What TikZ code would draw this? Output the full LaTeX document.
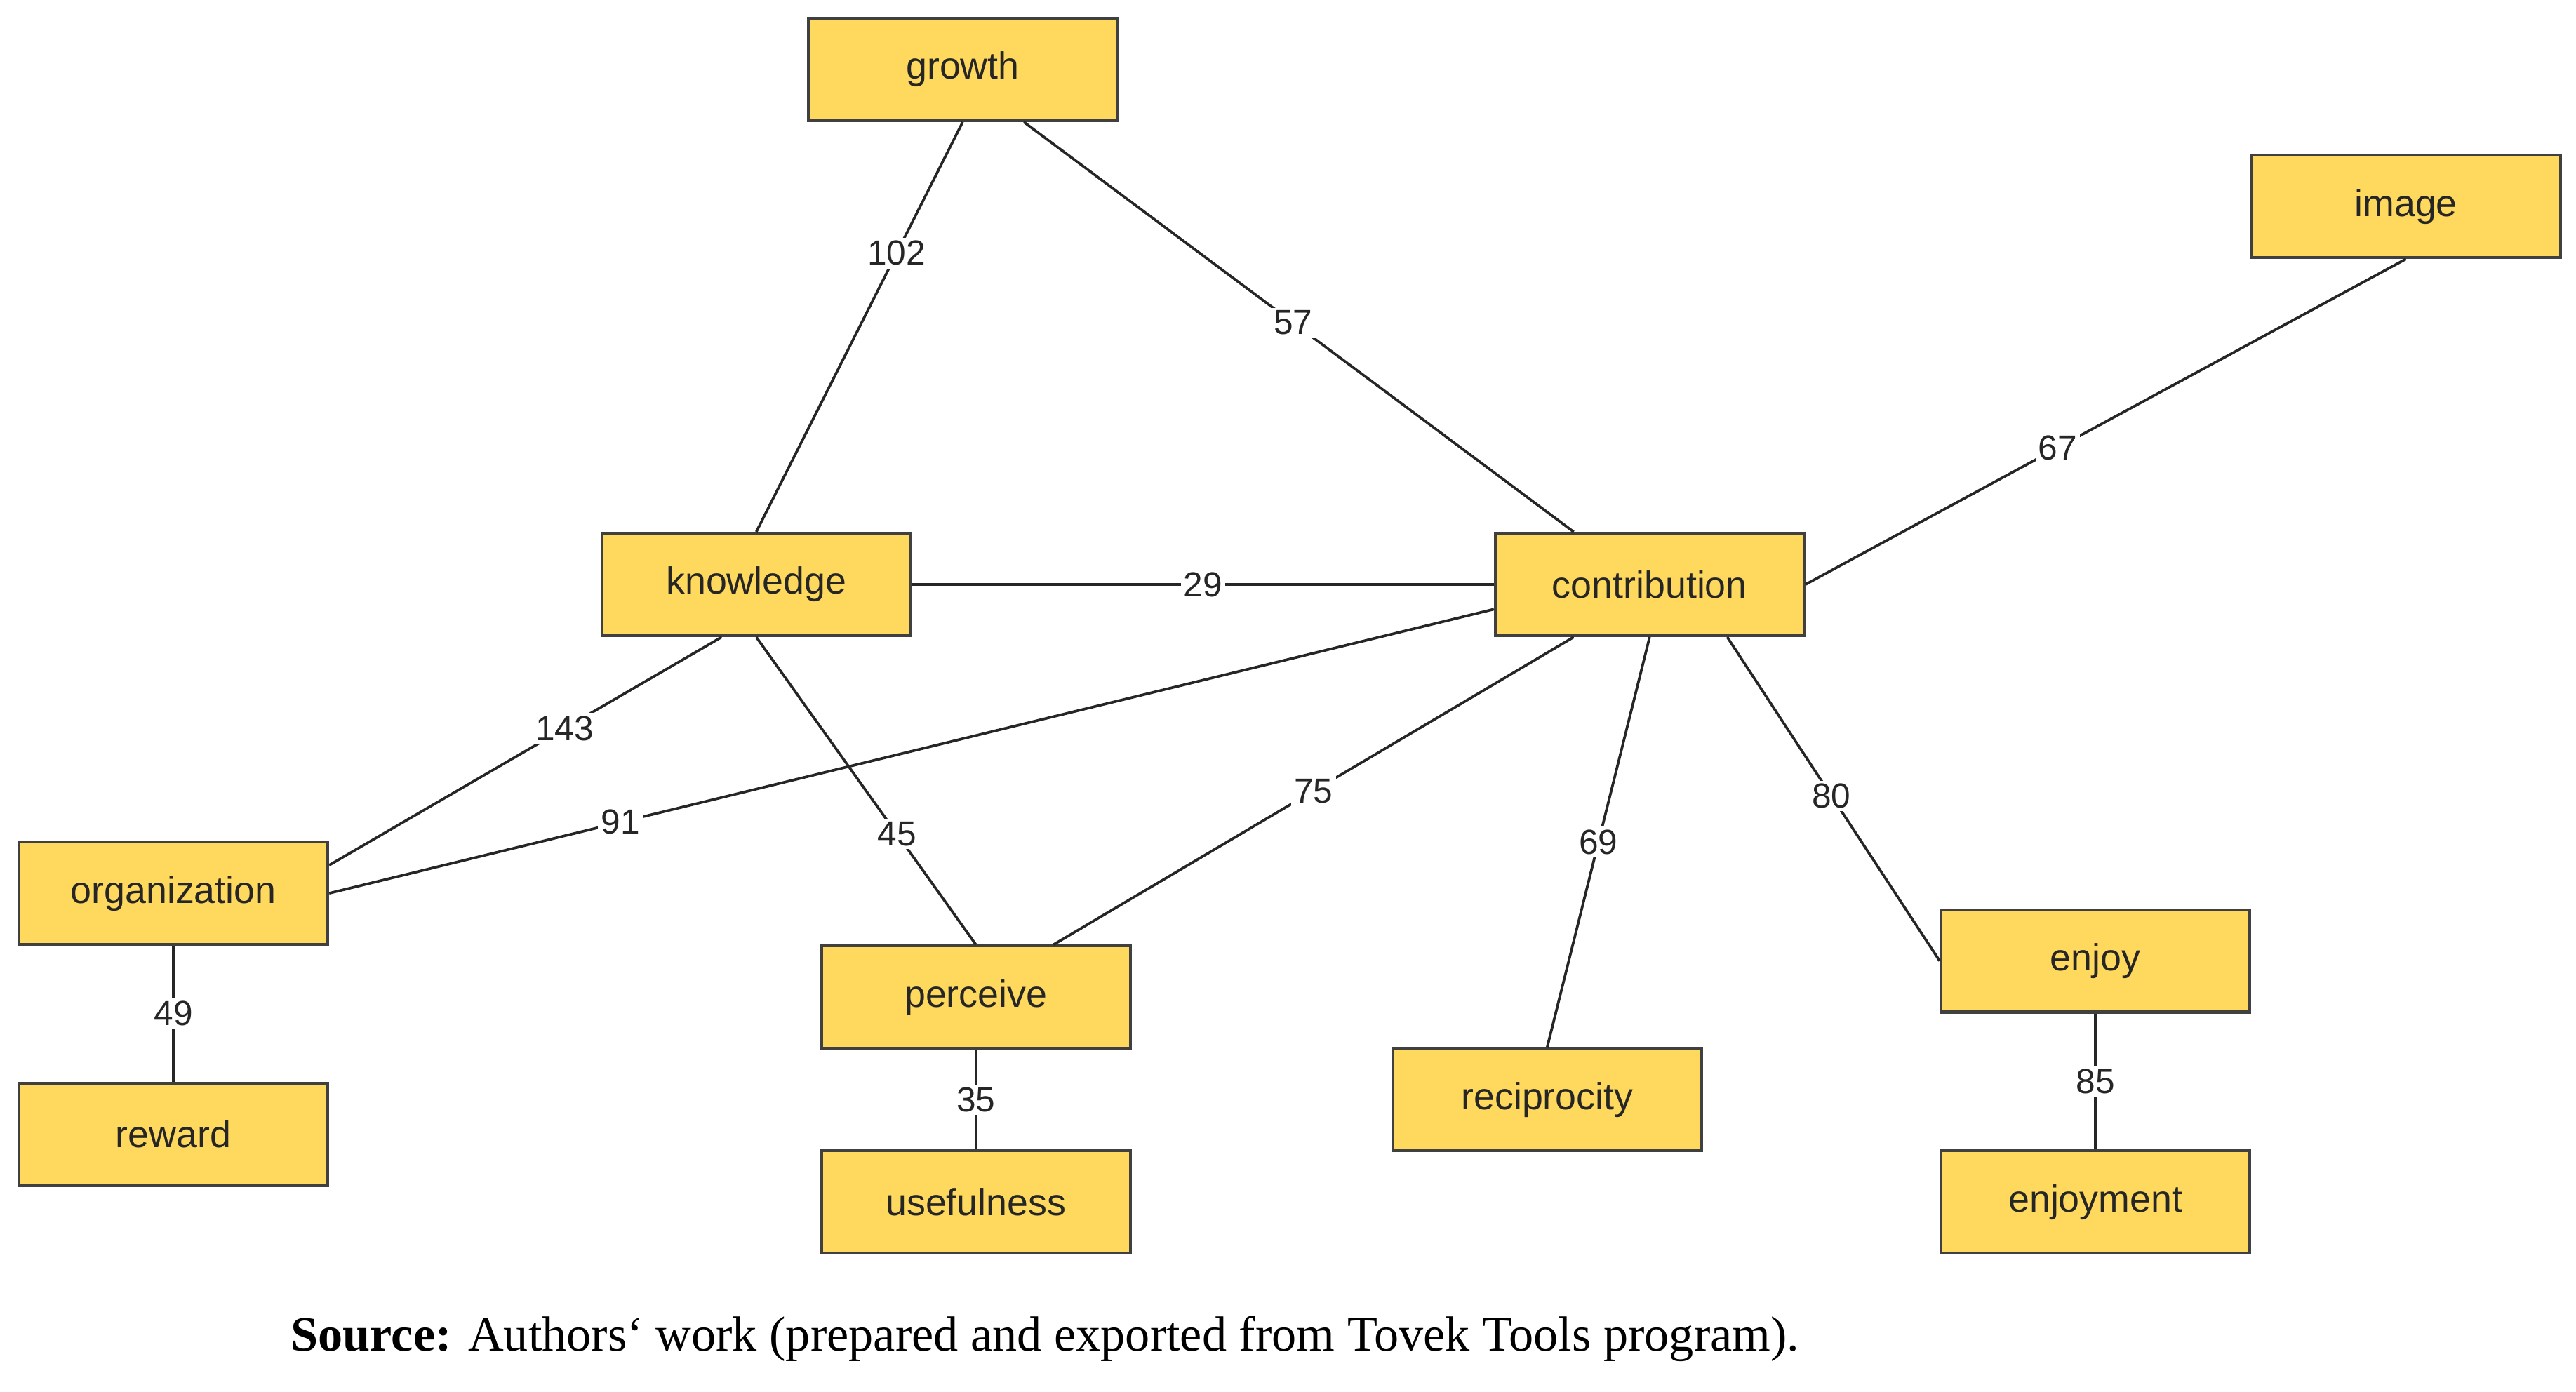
\documentclass[tikz,border=0pt]{standalone}
\usepackage{fontspec}
\setmainfont{Liberation Sans}
\newfontfamily\srcfont{Liberation Serif}
\begin{document}
\begin{tikzpicture}[x=0.02cm,y=-0.02cm,
  box/.style={draw=black!75,line width=1pt,fill={rgb,255:red,255;green,217;blue,94},minimum width=3.74cm,minimum height=1.24cm,inner sep=0pt,font=\fontsize{13}{15}\selectfont,text=black!85},
  lbl/.style={fill=white,inner sep=1pt,font=\fontsize{12}{14}\selectfont,text=black!85},
  edge/.style={draw=black!85,line width=0.9pt}]
\useasboundingbox (0,0) rectangle (1560,843);
\node[box] (growth) at (583,42) {growth};
\node[box] (image) at (1457,125) {image};
\node[box] (knowledge) at (458,354) {knowledge};
\node[box] (contribution) at (999,354) {contribution};
\node[box] (organization) at (105,541) {organization};
\node[box] (perceive) at (591,604) {perceive};
\node[box] (reciprocity) at (937,666) {reciprocity};
\node[box] (enjoy) at (1269,582) {enjoy};
\node[box] (reward) at (105,687) {reward};
\node[box] (usefulness) at (591,728) {usefulness};
\node[box] (enjoyment) at (1269,728) {enjoyment};
\draw[edge] (growth.south) -- node[lbl,pos=0.32]{102} (knowledge.north);
\draw[edge] ([xshift=0.74cm]growth.south) -- node[lbl,pos=0.49]{57} ([xshift=-0.92cm]contribution.north);
\draw[edge] (image.south) -- node[lbl,pos=0.58]{67} (contribution.east);
\draw[edge] (knowledge.east) -- node[lbl,pos=0.5]{29} (contribution.west);
\draw[edge] ([xshift=-0.42cm]knowledge.south) -- node[lbl,pos=0.4]{143} ([yshift=0.34cm]organization.east);
\draw[edge] ([yshift=-0.3cm]contribution.west) -- node[lbl,pos=0.75]{91} (organization.east);
\draw[edge] (knowledge.south) -- node[lbl,pos=0.64]{45} (perceive.north);
\draw[edge] ([xshift=-0.92cm]contribution.south) -- node[lbl,pos=0.5]{75} ([xshift=0.94cm]perceive.north);
\draw[edge] (contribution.south) -- node[lbl,pos=0.5]{69} (reciprocity.north);
\draw[edge] ([xshift=0.94cm]contribution.south) -- node[lbl,pos=0.49]{80} (enjoy.west);
\draw[edge] (organization.south) -- node[lbl]{49} (reward.north);
\draw[edge] (perceive.south) -- node[lbl]{35} (usefulness.north);
\draw[edge] (enjoy.south) -- node[lbl]{85} (enjoyment.north);
\node[font=\srcfont\fontsize{17}{20}\selectfont,anchor=west] (src) at (170,811) {\textbf{Source:} Authors‘ work (prepared and exported from Tovek Tools program).};
\end{tikzpicture}
\end{document}
